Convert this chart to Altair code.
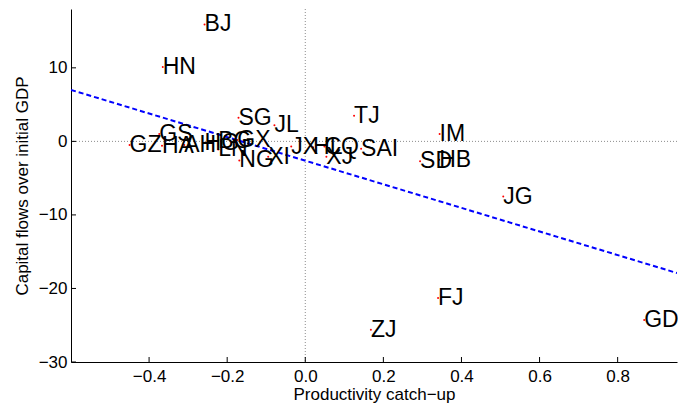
import altair as alt
import pandas as pd

# Province labels and their (productivity catch-up, capital flows) values
labels = ["BJ", "HN", "TJ", "SG", "JL", "GS", "GZ", "HA", "AH", "HG", "BG", "GX",
          "LN", "NG", "XI", "JX", "HL", "CQ", "XJ", "SAI", "IM", "SD", "HB", "JG",
          "FJ", "ZJ", "GD"]
catch_up = [-0.258, -0.365, 0.125, -0.171, -0.079, -0.374, -0.450, -0.367, -0.310, -0.258,
            -0.223, -0.174, -0.223, -0.169, -0.095, -0.036, 0.020, 0.049, 0.054, 0.143,
            0.344, 0.294, 0.343, 0.507, 0.340, 0.168, 0.868]
flows = [15.9, 10.1, 3.5, 3.2, 2.2, 1.0, -0.5, -0.6, -0.5, -0.2,
         0.1, 0.2, -1.1, -2.6, -2.1, -0.7, -0.8, -0.7, -2.1, -1.0,
         1.0, -2.7, -2.5, -7.5, -21.3, -25.6, -24.3]

fit_x = [-0.6, 0.952]
fit_y = [7.0, -17.9]

x_ticks = [-0.4, -0.2, 0, 0.2, 0.4, 0.6, 0.8]
y_ticks = [-30, -20, -10, 0, 10]

x_domain = [-0.6, 0.952]
y_domain = [-30, 18]

W, H = 606, 353
FONT = "Liberation Sans"
AX_FS = 17

pts = pd.DataFrame({"label": labels, "x": catch_up, "y": flows})
fit = pd.DataFrame({"x": fit_x, "y": fit_y})
xt = pd.DataFrame({"t": x_ticks})
yt = pd.DataFrame({"t": y_ticks})

xs = alt.Scale(domain=x_domain, nice=False, zero=False)
ys = alt.Scale(domain=y_domain, nice=False, zero=False)

x_axis = alt.Axis(values=x_ticks, title="Productivity catch\u2212up", grid=False,
                  ticks=False, tickSize=0, labelPadding=6, titlePadding=2,
                  domainColor="black", domainWidth=1)
y_axis = alt.Axis(values=y_ticks, title="Capital flows over initial GDP", grid=False,
                  ticks=False, tickSize=0, labelPadding=4, titlePadding=7,
                  domainColor="black", domainWidth=1)

base = alt.Chart(pts)

zero_h = alt.Chart(pd.DataFrame({"v": [0]})).mark_rule(
    color="#8c8c8c", strokeDash=[1, 2], strokeWidth=1
).encode(y=alt.Y("v:Q", scale=ys, axis=y_axis))

zero_v = alt.Chart(pd.DataFrame({"v": [0]})).mark_rule(
    color="#8c8c8c", strokeDash=[1, 2], strokeWidth=1
).encode(x=alt.X("v:Q", scale=xs, axis=x_axis))

fit_line = alt.Chart(fit).mark_line(
    color="#0000ff", strokeDash=[5, 3], strokeWidth=2, clip=True
).encode(x=alt.X("x:Q", scale=xs), y=alt.Y("y:Q", scale=ys))

dots = base.mark_point(filled=True, color="#ff0000", size=4, opacity=1).encode(
    x=alt.X("x:Q", scale=xs), y=alt.Y("y:Q", scale=ys))

texts = base.mark_text(align="left", baseline="middle", dx=0, fontSize=23,
                       font=FONT, color="black").encode(
    x=alt.X("x:Q", scale=xs), y=alt.Y("y:Q", scale=ys), text="label:N")

x_tick_marks = alt.Chart(xt).mark_rule(color="black", strokeWidth=1).encode(
    x=alt.X("t:Q", scale=xs), y=alt.value(H), y2=alt.value(H - 5))

y_tick_marks = alt.Chart(yt).mark_rule(color="black", strokeWidth=1).encode(
    y=alt.Y("t:Q", scale=ys), x=alt.value(0), x2=alt.value(5))

chart = alt.layer(zero_h, zero_v, fit_line, dots, texts, x_tick_marks, y_tick_marks).properties(
    width=W, height=H,
    padding={"left": 71, "top": 9, "right": 1, "bottom": 49},
    autosize=alt.AutoSizeParams(type="none"),
    background="white",
).configure_view(stroke=None).configure_axis(
    labelFont=FONT, labelFontSize=AX_FS, labelColor="black",
    titleFont=FONT, titleFontSize=AX_FS, titleFontWeight="normal", titleColor="black",
)

chart.save("out.html", embed_options={"renderer": "svg", "actions": False})
